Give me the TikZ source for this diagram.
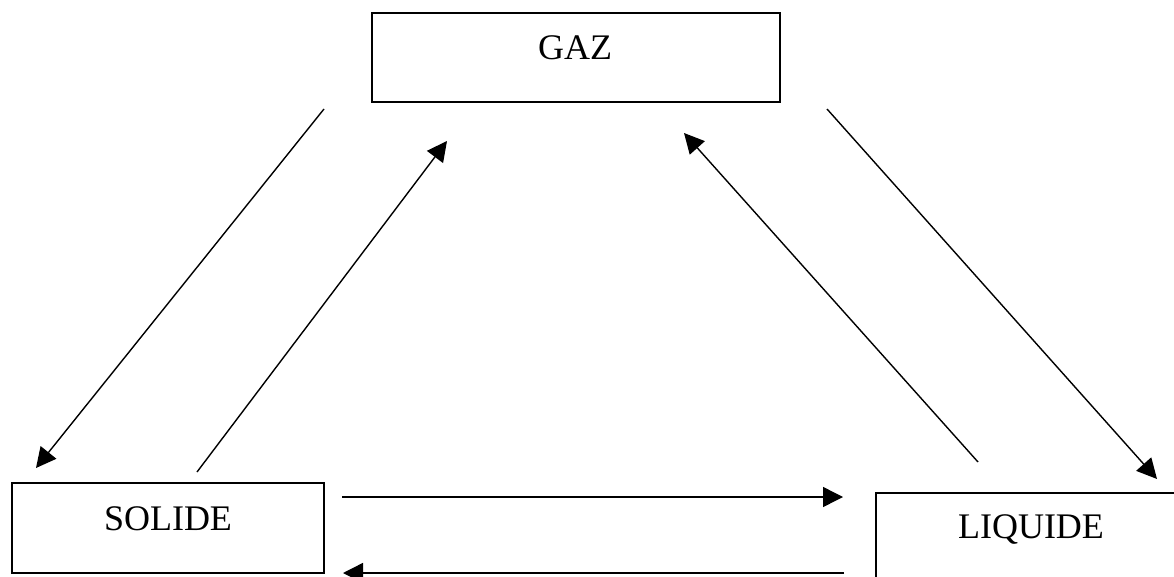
\documentclass[tikz,border=0pt]{standalone}
\usepackage{fontspec}
\setmainfont{Liberation Serif}
\usetikzlibrary{arrows.meta}
\begin{document}
\begin{tikzpicture}[x=1pt,y=-1pt,
  box/.style={draw=black,line width=1.5pt,rectangle,inner sep=0pt,outer sep=0pt},
  lbl/.style={anchor=base,inner sep=0pt,font=\fontsize{36}{40}\selectfont},
  arr/.style={draw=black,line width=1.4pt,-{Triangle[length=20pt,width=20pt]}}]
\useasboundingbox (0,0) rectangle (1174,577);
\clip (0,0) rectangle (1174,577);
% boxes
\node[box,minimum width=408pt,minimum height=89pt] (gaz) at (576,57.5) {};
\node[box,minimum width=312pt,minimum height=90pt] (solide) at (168,528) {};
\node[box,minimum width=360pt,minimum height=120pt] (liquide) at (1056,553) {};
% labels
\node[lbl] (gazt) at (575,60) {GAZ};
\node[lbl] (solidet) at (168,530) {SOLIDE};
\node[lbl] (liquidet) at (1031,538) {LIQUIDE};
% arrow end points
\coordinate (a1s) at (324,109); \coordinate (a1e) at (36,468);
\coordinate (a2s) at (197,472); \coordinate (a2e) at (447,141);
\coordinate (a3s) at (978,462); \coordinate (a3e) at (684,133);
\coordinate (a4s) at (827,109); \coordinate (a4e) at (1157,479);
\coordinate (a5s) at (342,497); \coordinate (a5e) at (843,497);
\coordinate (a6s) at (844,573); \coordinate (a6e) at (343,573);
\draw[arr] (a1s) -- (a1e);
\draw[arr] (a2s) -- (a2e);
\draw[arr] (a3s) -- (a3e);
\draw[arr] (a4s) -- (a4e);
\draw[arr] (a5s) -- (a5e);
\draw[arr] (a6s) -- (a6e);
\end{tikzpicture}
\end{document}
